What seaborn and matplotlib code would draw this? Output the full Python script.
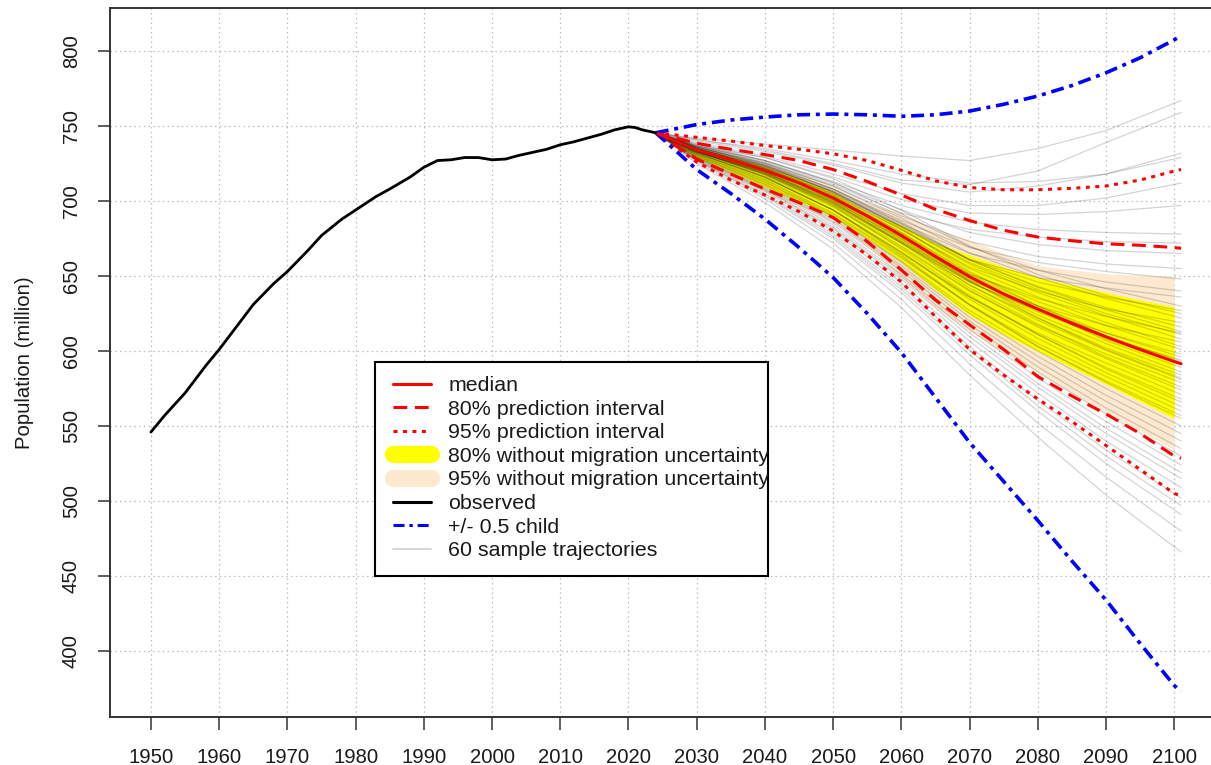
import matplotlib
matplotlib.use("Agg")
import matplotlib.pyplot as plt
from matplotlib.lines import Line2D
from matplotlib.patches import Rectangle
import pandas as pd
import seaborn as sns

# ---------------- observed population (million) ----------------
obs_years = [1950, 1952, 1955, 1958, 1960, 1963, 1965, 1968, 1970, 1973, 1975, 1978,
             1980, 1983, 1985, 1988, 1990, 1992, 1994, 1996, 1998, 2000, 2002, 2004,
             2006, 2008, 2010, 2012, 2014, 2016, 2018, 2020, 2021, 2022, 2024]
obs_pop = [546, 557, 572, 590, 601, 619, 631, 645, 653, 667, 677, 688,
           694, 703, 708, 716, 722.5, 727, 727.5, 729, 729, 727.5, 728, 730.5,
           732.5, 734.5, 737.5, 739.5, 742, 744.5, 747.5, 749.5, 749, 747.5, 745.5]

# ---------------- projection summaries ----------------
proj_years = [2024, 2030, 2035, 2040, 2045, 2050, 2055, 2060, 2065, 2070, 2075,
              2080, 2085, 2090, 2095, 2100, 2101]
median = [745.5, 734, 727.5, 720.5, 712, 702, 690, 677, 663, 649.5, 638,
          628, 618.5, 609.5, 601, 593, 591.5]
pi80_high = [745.5, 738.5, 734.5, 731, 727, 721, 713, 704, 694.5, 687, 680.5,
             676, 673.5, 671.5, 670.5, 669, 668.5]
pi80_low = [745.5, 728, 718, 708, 699, 689, 673, 654, 634, 617.5, 601,
            583, 570, 558, 545, 530, 528.5]
pi95_high = [745.5, 742.5, 740, 737, 734.5, 731.5, 727, 720.5, 713.5, 709, 707.5,
             707.5, 708.5, 710, 714, 720, 721]
pi95_low = [745.5, 726, 714, 704, 693, 680, 664, 646, 623, 601, 584,
            568, 553, 537, 521, 505, 503.5]
child_high = [745.5, 751, 754, 756, 757.5, 758, 757.5, 756.5, 757.5, 760, 764.5,
              770, 777, 785.5, 795.5, 807.5, 810]
child_low = [745.5, 721, 705, 688, 669, 649, 625, 599, 569, 539, 513,
             487, 460, 434, 405, 377, 373]

# intervals without migration uncertainty
band_years = [2024, 2030, 2035, 2040, 2045, 2050, 2055, 2060, 2065, 2070, 2075,
              2080, 2085, 2090, 2095, 2100]
nomig80_high = [745.5, 735.5, 729.5, 723, 715, 706, 693, 684, 672, 664, 656,
                649, 644, 639, 634, 629.5]
nomig80_low = [745.5, 729, 719.5, 709.5, 700, 689.5, 675, 659.5, 641, 624, 611,
               600, 589, 578, 566.5, 555]
nomig95_high = [745.5, 737.5, 732, 726, 718.5, 710, 699, 692, 681, 674, 665,
                657, 654, 651.5, 650.5, 650]
nomig95_low = [745.5, 727, 716.5, 706, 697, 687, 670, 649.5, 629, 613, 599,
               586, 572, 559, 547, 534]

# ---------------- sample trajectories ----------------
traj_years = [2024, 2030, 2040, 2050, 2060, 2070, 2080, 2090, 2101]
sample_trajectories = [
    [745.5, 742, 738, 734, 730, 727, 735, 747, 767],
    [745.5, 741, 734, 725, 714, 711, 720, 739, 759],
    [745.5, 740, 733, 724, 712, 706, 710, 718, 732],
    [745.5, 741, 735, 727, 718, 712, 713, 718, 729],
    [745.5, 739, 730, 718, 705, 697, 697, 702, 712],
    [745.5, 738, 729, 716, 701, 692, 691, 693, 697],
    [745.5, 738, 727, 713, 697, 686, 681, 679, 678],
    [745.5, 737, 726, 711, 692, 681, 676, 673, 672],
    [745.5, 737, 727, 712, 694, 679, 671, 667, 665],
    [745.5, 736, 725, 710, 690, 673, 663, 658, 655],
    [745.5, 736, 724, 708, 687, 669, 659, 653, 648],
    [745.5, 735, 723, 707, 685, 665, 654, 646, 640],
    [745.5, 736, 724, 706, 683, 661, 649, 642, 636],
    [745.5, 736.5, 727, 712.5, 691.5, 669.5, 654, 641.5, 630],
    [745.5, 735, 723, 706, 684, 661, 646, 636, 627],
    [745.5, 737, 729, 715, 694, 670, 651, 637, 625],
    [745.5, 736, 725.5, 710, 688.5, 665.5, 649, 635, 622],
    [745.5, 735, 722, 704, 681, 656, 640, 628, 619],
    [745.5, 736, 725, 708, 686, 661, 643, 629, 616],
    [745.5, 735.5, 724, 708, 685, 660.5, 642.5, 627.5, 613],
    [745.5, 734, 720, 701, 676, 651, 635, 623, 612],
    [745.5, 735, 722, 705, 683, 659, 641, 625, 611],
    [745.5, 735, 723.5, 706.5, 683, 658, 639, 623.5, 608],
    [745.5, 733, 719, 699, 673, 647, 630, 617, 606],
    [745.5, 734.5, 722, 705, 681, 655, 636, 619, 603],
    [745.5, 734, 721, 703, 679, 652, 633, 617, 601],
    [745.5, 733, 718, 698, 672, 646, 627, 612, 598],
    [745.5, 734.5, 722, 704, 679, 651, 630, 612, 596],
    [745.5, 733.5, 719.5, 700, 674, 646, 626, 609, 594],
    [745.5, 735, 723, 706, 682, 653, 630, 610, 593],
    [745.5, 733, 719, 700, 675, 648, 627, 608, 591],
    [745.5, 734, 721, 703, 678, 650, 628, 607, 589],
    [745.5, 733.5, 719.5, 700.5, 675, 646.5, 624, 605, 586],
    [745.5, 733, 718, 698, 672, 644, 622, 602, 584],
    [745.5, 734, 721, 703, 677, 647, 622, 601, 582],
    [745.5, 733, 718.5, 699, 673, 644, 620.5, 600.5, 581],
    [745.5, 732.5, 717, 696, 669, 640, 617, 598, 579],
    [745.5, 733, 719, 699, 672, 642, 618, 596, 576],
    [745.5, 733, 717.5, 697, 670, 640.5, 616, 595, 574],
    [745.5, 732, 716, 694, 666, 636, 612, 592, 571],
    [745.5, 733, 718, 697, 668, 637, 611, 589, 568],
    [745.5, 732, 716, 694, 665, 636, 611, 588, 566],
    [745.5, 732, 715.5, 694, 666, 634.5, 608.5, 585.5, 563],
    [745.5, 731, 714, 691, 662, 631, 605, 583, 560],
    [745.5, 732, 716, 694, 664, 631, 603, 580, 557],
    [745.5, 731.5, 714.5, 692, 663, 630.5, 603, 579, 555],
    [745.5, 731, 713, 690, 660, 627, 600, 575, 550],
    [745.5, 730.5, 712.5, 689.5, 659, 625, 596.5, 570.5, 545],
    [745.5, 730, 711.5, 688, 657, 622.5, 593, 566.5, 540],
    [745.5, 730, 711, 686.5, 655.5, 620, 589.5, 562, 535],
    [745.5, 729.5, 710, 685.5, 653.5, 617.5, 586, 558, 530],
    [745.5, 729, 709, 684, 651, 614.5, 582, 553, 524],
    [745.5, 729, 708, 682.5, 649.5, 612, 578.5, 548.5, 519],
    [745.5, 728.5, 707.5, 681.5, 648, 609.5, 576, 545, 515],
    [745.5, 728, 706.5, 680, 645.5, 606.5, 572, 540, 509],
    [745.5, 727.5, 705, 678, 643, 603, 567, 534, 502],
    [745.5, 727, 704, 676.5, 641, 600.5, 563.5, 530, 497],
    [745.5, 727, 703, 675, 639, 597.5, 560, 525, 491],
    [745.5, 726, 701.5, 672, 634.5, 591.5, 552, 516, 480],
    [745.5, 725, 699, 668, 629, 584, 542.5, 504, 466],
]

x_ticks = list(range(1950, 2101, 10))
y_ticks = list(range(400, 801, 50))

# ---------------- styling ----------------
sns.set_theme(style="white")
plt.rcParams["font.family"] = ["Liberation Sans", "DejaVu Sans"]

W, H = 1211, 765
fig = plt.figure(figsize=(W / 100, H / 100), dpi=100)
ax = fig.add_axes([110 / W, 1 - 717 / H, (1222 - 110) / W, (717 - 8) / H])

BEIGE = "#FCE9CF"
YELLOW = "#FFFF00"
DASHED = (0, (4.5, 2.5))
DOTTED = (0, (1.3, 1.8))
DOTDASH = (0, (3.6, 1.6, 1.1, 1.6))

# bands without migration uncertainty
ax.fill_between(band_years, nomig95_low, nomig95_high, color=BEIGE, lw=0, zorder=1.2)
ax.fill_between(band_years, nomig80_low, nomig80_high, color=YELLOW, lw=0, zorder=1.3)

# sample trajectories
traj_df = pd.DataFrame(
    [(i, yr, v) for i, row in enumerate(sample_trajectories) for yr, v in zip(traj_years, row)],
    columns=["traj", "year", "pop"],
)
sns.lineplot(data=traj_df, x="year", y="pop", units="traj", estimator=None,
             color="black", alpha=0.17, lw=0.9, legend=False, ax=ax, zorder=2)

# prediction intervals, median, +/- 0.5 child
for vals, ls in [(pi95_low, DOTTED), (pi95_high, DOTTED), (pi80_low, DASHED), (pi80_high, DASHED)]:
    sns.lineplot(x=proj_years, y=vals, color="red", lw=2.2, linestyle=ls, ax=ax, zorder=3)
for vals in (child_low, child_high):
    sns.lineplot(x=proj_years, y=vals, color="#0000FF", lw=2.6, linestyle=DOTDASH, ax=ax, zorder=3)
sns.lineplot(x=proj_years, y=median, color="red", lw=2.2, ax=ax, zorder=4)
sns.lineplot(x=obs_years, y=obs_pop, color="black", lw=2.0, ax=ax, zorder=4)

# axes
ax.set_xlim(1944, 2107)
ax.set_ylim(356, 828.7)
ax.set_xticks(x_ticks)
ax.set_yticks(y_ticks)
ax.set_xlabel("")
ax.set_ylabel("Population (million)", fontsize=14.6, color="#1a1a1a")
ax.yaxis.set_label_coords((34 - 110) / 1112, 0.5)
ax.grid(True, color="#bdbdbd", linestyle=(0, (1.2, 2.6)), lw=0.9)
ax.set_axisbelow(True)
for sp in ax.spines.values():
    sp.set_visible(True)
    sp.set_color("#333333")
    sp.set_linewidth(1.4)
ax.tick_params(axis="both", direction="out", length=9, width=1.1, color="#333333",
               labelsize=14.6, labelcolor="#1a1a1a", bottom=True, left=True)
ax.tick_params(axis="x", pad=13)
ax.tick_params(axis="y", pad=12, labelrotation=90)
for lbl in ax.get_yticklabels():
    lbl.set_va("center")

# legend with its frame
frame = Rectangle((375 / W, 1 - 576 / H), (768 - 375) / W, (576 - 362) / H,
                  transform=fig.transFigure, facecolor="white", edgecolor="black",
                  lw=1.5, zorder=4.5, clip_on=False)
ax.add_patch(frame)
handles = [
    Line2D([], [], color="red", lw=2.2),
    Line2D([], [], color="red", lw=2.2, linestyle=DASHED),
    Line2D([], [], color="red", lw=2.2, linestyle=DOTTED),
    Line2D([], [], color=YELLOW, lw=12.5, solid_capstyle="round"),
    Line2D([], [], color=BEIGE, lw=12.5, solid_capstyle="round"),
    Line2D([], [], color="black", lw=2.2),
    Line2D([], [], color="#0000FF", lw=2.2, linestyle=DOTDASH),
    Line2D([], [], color="#d3d3d3", lw=1.3),
]
labels = ["median", "80% prediction interval", "95% prediction interval",
          "80% without migration uncertainty", "95% without migration uncertainty",
          "observed", "+/- 0.5 child", "60 sample trajectories"]
leg = ax.legend(handles, labels, loc="upper left", bbox_to_anchor=(393 / W, 1 - 376 / H),
                bbox_transform=fig.transFigure, frameon=False, fontsize=15.4,
                handlelength=1.78, handletextpad=0.8, labelspacing=0.215,
                borderpad=0, borderaxespad=0)
leg.set_zorder(5)
for t in leg.get_texts():
    t.set_color("#1a1a1a")

fig.savefig("out.png", dpi=100)
